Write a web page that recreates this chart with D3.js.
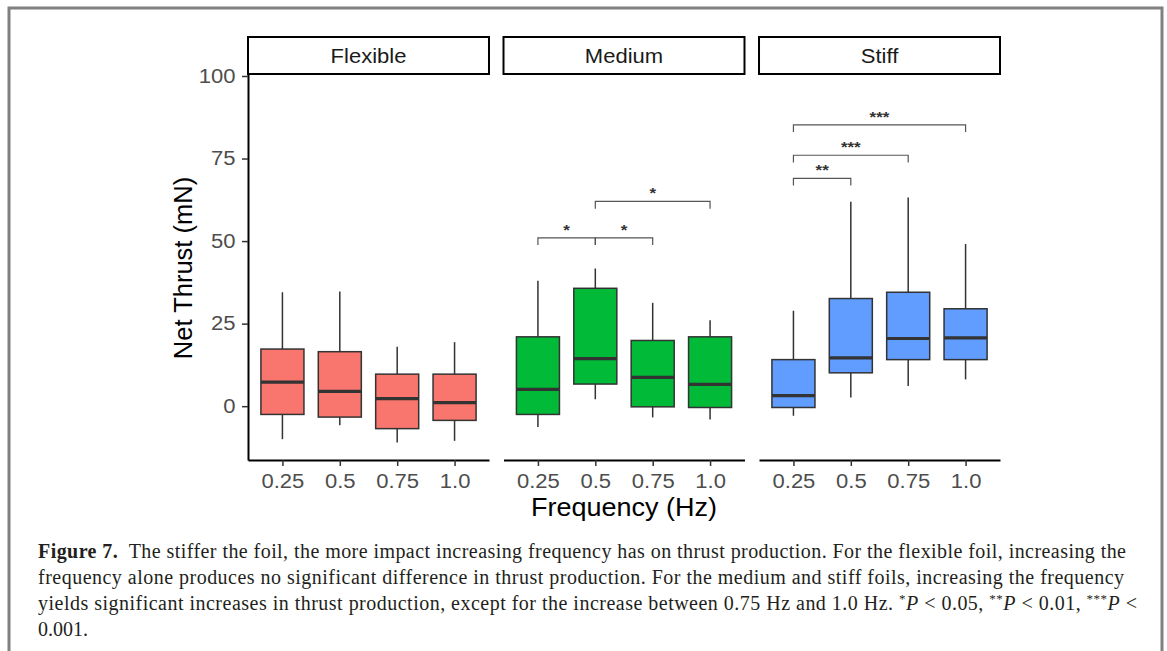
<!DOCTYPE html>
<html>
<head>
<meta charset="utf-8">
<script src="https://cdn.jsdelivr.net/npm/d3@7"></script>
<style>
  body { margin: 0; background: #fff; }
  svg { display: block; }
</style>
</head>
<body>
<script>
const width = 1167,
  height = 651;

const stiffness = ["Flexible", "Medium", "Stiff"];
const frequencies = ["0.25", "0.5", "0.75", "1.0"];
const boxFill = ["#F8766D", "#00BA38", "#619CFF"];

// box stats, one row per panel, one value per frequency
const whiskerLow = [[-10, -5.8, -11, -10.5], [-6.3, 2.1, -3.4, -4], [-2.9, 2.6, 6.1, 8.1]];
const q1 = [[-2.5, -3.3, -6.8, -4.3], [-2.5, 6.7, -0.2, -0.4], [-0.4, 10.1, 14.1, 14.1]];
const median = [[7.3, 4.5, 2.3, 1.1], [5.1, 14.4, 8.7, 6.6], [3.2, 14.6, 20.5, 20.7]];
const q3 = [[17.3, 16.5, 9.7, 9.7], [21, 35.7, 19.9, 21], [14.1, 32.6, 34.5, 29.5]];
const whiskerHigh = [[34.5, 34.7, 18, 19.4], [38, 41.7, 31.3, 26], [28.9, 61.9, 63.2, 49.1]];

// significance brackets
const sigPanel = ["Medium", "Medium", "Medium", "Stiff", "Stiff", "Stiff"];
const sigFrom = ["0.25", "0.5", "0.5", "0.25", "0.25", "0.25"];
const sigTo = ["0.5", "0.75", "1.0", "0.5", "0.75", "1.0"];
const sigY = [51, 51, 62, 69, 76, 85.2];
const sigLabel = ["*", "*", "*", "**", "***", "***"];

const yTicks = [0, 25, 50, 75, 100];
const yDomain = [-16.3, 100.6];

// caption lines (each part: text, bold, italic, sup)
const captionLines = [
  [["Figure 7.", true], ["\u2002The stiffer the foil, the more impact increasing frequency has on thrust production. For the flexible foil, increasing the"]],
  [["frequency alone produces no significant difference in thrust production. For the medium and stiff foils, increasing the frequency"]],
  [["yields significant increases in thrust production, except for the increase between 0.75 Hz and 1.0 Hz. "],
   ["*", false, false, true], ["P", false, true], [" < 0.05, "],
   ["**", false, false, true], ["P", false, true], [" < 0.01, "],
   ["***", false, false, true], ["P", false, true], [" <"]],
  [["0.001."]]
];
const captionWidths = [1088, 1086, 1099, 0];

const SX = 1.13; // the figure is a bit wider than tall

const svg = d3
  .select("body")
  .append("svg")
  .attr("width", width)
  .attr("height", height);

// grey frame around the figure
svg
  .append("rect")
  .attr("x", 9)
  .attr("y", 8)
  .attr("width", 1153)
  .attr("height", 700)
  .attr("fill", "none")
  .attr("stroke", "#808080")
  .attr("stroke-width", 3);

const plotTop = 74,
  plotBottom = 460;

const y = d3.scaleLinear().domain(yDomain).range([plotBottom, plotTop]);

const panel = d3
  .scaleBand()
  .domain(stiffness)
  .range([248, 1000])
  .paddingInner(0.0568);

const x = d3
  .scalePoint()
  .domain(frequencies)
  .range([0, panel.bandwidth()])
  .padding(0.6);

const boxW = x.step() * 0.75;

stiffness.forEach((name, p) => {
  const g = svg.append("g").attr("transform", `translate(${panel(name)},0)`);

  // strip
  g.append("rect")
    .attr("x", 0)
    .attr("y", 37)
    .attr("width", panel.bandwidth())
    .attr("height", plotTop - 37)
    .attr("fill", "#fff")
    .attr("stroke", "#000")
    .attr("stroke-width", 2);

  g.append("text")
    .attr("transform", `translate(${panel.bandwidth() / 2},63) scale(${SX},1)`)
    .attr("text-anchor", "middle")
    .attr("font-family", "Liberation Sans, Arial, sans-serif")
    .attr("font-size", 19.5)
    .attr("fill", "#1a1a1a")
    .text(name);

  // x axis
  const xAxis = g
    .append("g")
    .attr("transform", `translate(0,${plotBottom})`)
    .call(d3.axisBottom(x).tickSize(6).tickSizeOuter(0).tickPadding(8));
  xAxis.select(".domain").attr("stroke", "#000").attr("stroke-width", 2);
  xAxis.selectAll(".tick line").attr("stroke", "#333").attr("stroke-width", 1.5);
  xAxis
    .selectAll(".tick text")
    .attr("font-family", "Liberation Sans, Arial, sans-serif")
    .attr("font-size", 19.5)
    .attr("fill", "#4d4d4d")
    .attr("transform", `scale(${SX},1)`);

  // boxes
  const boxes = g
    .selectAll("g.box")
    .data(frequencies)
    .join("g")
    .attr("class", "box")
    .attr("transform", d => `translate(${x(d)},0)`);

  boxes
    .append("line")
    .attr("y1", (d, i) => y(whiskerLow[p][i]))
    .attr("y2", (d, i) => y(whiskerHigh[p][i]))
    .attr("stroke", "#333")
    .attr("stroke-width", 1.5);

  boxes
    .append("rect")
    .attr("x", -boxW / 2)
    .attr("width", boxW)
    .attr("y", (d, i) => y(q3[p][i]))
    .attr("height", (d, i) => y(q1[p][i]) - y(q3[p][i]))
    .attr("fill", boxFill[p])
    .attr("stroke", "#333")
    .attr("stroke-width", 1.5);

  boxes
    .append("line")
    .attr("x1", -boxW / 2)
    .attr("x2", boxW / 2)
    .attr("y1", (d, i) => y(median[p][i]))
    .attr("y2", (d, i) => y(median[p][i]))
    .attr("stroke", "#333")
    .attr("stroke-width", 3.2);

  // significance brackets for this panel
  const tip = 2.2;
  sigPanel.forEach((sp, k) => {
    if (sp !== name) return;
    const x1 = x(sigFrom[k]),
      x2 = x(sigTo[k]);
    const yb = y(sigY[k]),
      yt = y(sigY[k] - tip);
    g.append("path")
      .attr("d", `M${x1},${yt}V${yb}H${x2}V${yt}`)
      .attr("fill", "none")
      .attr("stroke", "#555")
      .attr("stroke-width", 1.2);
    g.append("text")
      .attr("transform", `translate(${(x1 + x2) / 2},${yb - 3}) scale(${SX},1)`)
      .attr("text-anchor", "middle")
      .attr("font-family", "Liberation Sans, Arial, sans-serif")
      .attr("font-size", 15)
      .attr("font-weight", "bold")
      .attr("fill", "#333")
      .text(sigLabel[k]);
  });
});

// y axis on the first panel
const yAxis = svg
  .append("g")
  .attr("transform", `translate(${panel(stiffness[0])},0)`)
  .call(d3.axisLeft(y).tickValues(yTicks).tickSize(6).tickSizeOuter(0).tickPadding(5));
yAxis.select(".domain").attr("stroke", "#000").attr("stroke-width", 2);
yAxis.selectAll(".tick line").attr("stroke", "#333").attr("stroke-width", 1.5);
yAxis
  .selectAll(".tick text")
  .attr("font-family", "Liberation Sans, Arial, sans-serif")
  .attr("font-size", 19.5)
  .attr("fill", "#4d4d4d")
  .attr("transform", `scale(${SX},1)`);

// axis titles
svg
  .append("text")
  .attr("transform", `translate(624,516) scale(1.08,1)`)
  .attr("text-anchor", "middle")
  .attr("font-family", "Liberation Sans, Arial, sans-serif")
  .attr("font-size", 25)
  .attr("fill", "#000")
  .text("Frequency (Hz)");

svg
  .append("text")
  .attr("transform", `translate(192,268) rotate(-90)`)
  .attr("text-anchor", "middle")
  .attr("font-family", "Liberation Sans, Arial, sans-serif")
  .attr("font-size", 25.5)
  .attr("fill", "#000")
  .text("Net Thrust (mN)");

// caption
const cap = svg
  .append("g")
  .attr("font-family", "Liberation Serif, Times New Roman, serif")
  .attr("font-size", 20)
  .attr("fill", "#231f20");

captionLines.forEach((parts, li) => {
  const t = cap
    .append("text")
    .attr("x", 38)
    .attr("y", 558 + li * 26);
  if (captionWidths[li] > 0) {
    t.attr("textLength", captionWidths[li]).attr("lengthAdjust", "spacing");
  }
  let raised = false;
  parts.forEach(([txt, bold, italic, sup]) => {
    const s = t.append("tspan").text(txt);
    if (bold) s.attr("font-weight", "bold");
    if (italic) s.attr("font-style", "italic");
    if (sup) {
      s.attr("font-size", 13).attr("dy", -7);
      raised = true;
    } else if (raised) {
      s.attr("dy", 7);
      raised = false;
    }
  });
});
</script>
</body>
</html>
